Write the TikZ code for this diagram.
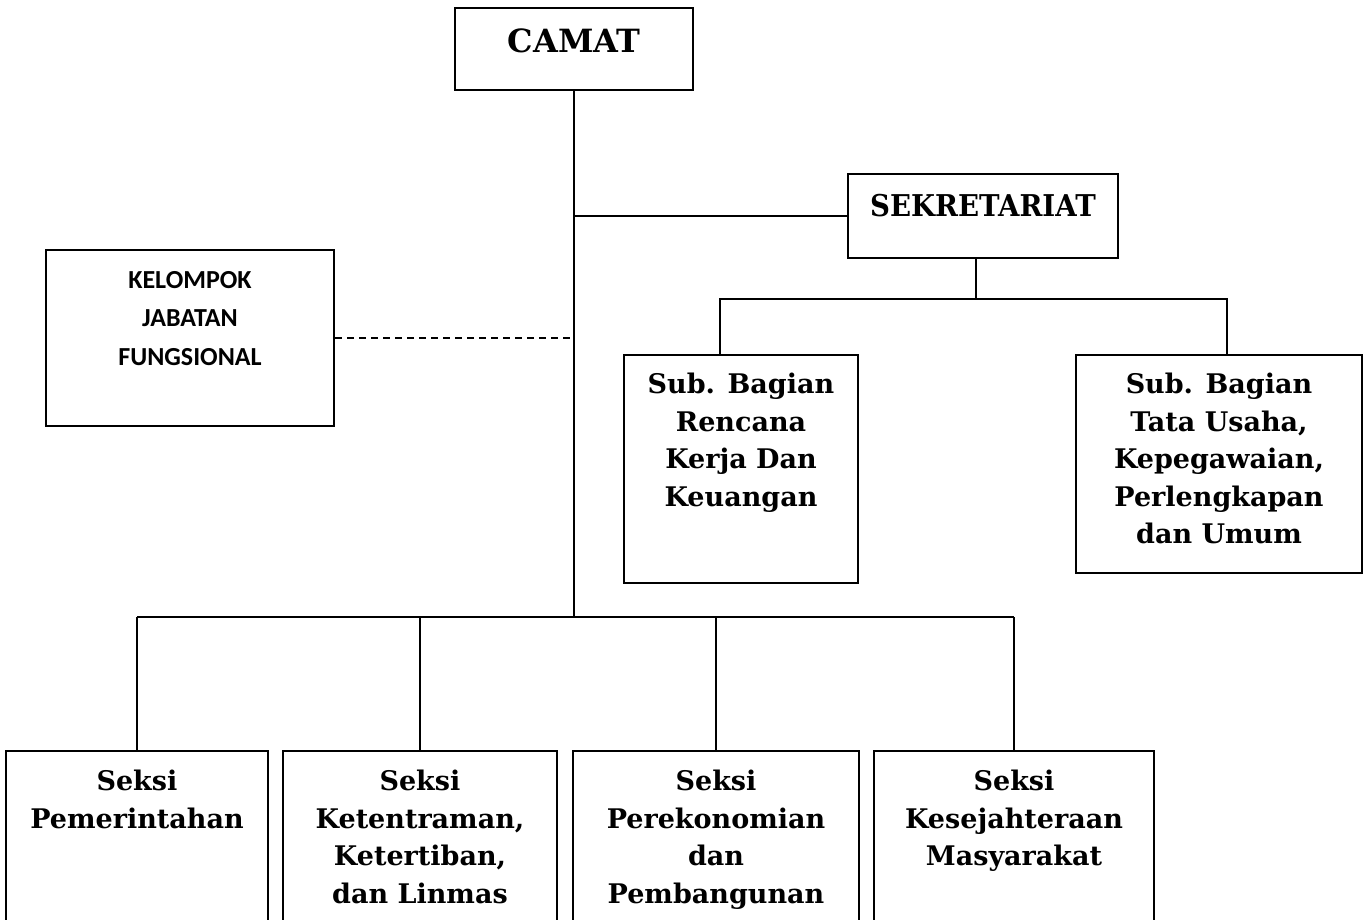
\documentclass[tikz,border=0pt]{standalone}
\usepackage{fontspec}
\usepackage{tikz}
\usetikzlibrary{positioning, calc}
\newfontfamily\carlito{Carlito}
\newfontfamily\dvserif{DejaVu Serif}

\begin{document}
\begin{tikzpicture}[x=1pt, y=-1pt, line width=2pt,
    unit/.style={draw, inner sep=0pt},
    lbl/.style={inner sep=0pt, align=center, font=\dvserif\bfseries\fontsize{27}{37.5}\selectfont},
    fnl/.style={inner sep=0pt, align=center, font=\carlito\bfseries\fontsize{26}{38.5}\selectfont}]
  \useasboundingbox (0,0) rectangle (1366,919);
  \clip (0,0) rectangle (1366,919);

  % top level
  \node[unit, minimum width=238pt, minimum height=82pt] (camat) at (574,49) {};
  \node[lbl, font=\dvserif\bfseries\fontsize{32}{40}\selectfont, below=21pt of camat.north] (tcamat) {CAMAT};

  \node[unit, minimum width=270pt, minimum height=84pt] (sekr) at (983,216) {};
  \node[lbl, font=\dvserif\bfseries\fontsize{30}{40}\selectfont, below=20pt of sekr.north] (tsekr) {\scalebox{0.92}[1]{SEKRETARIAT}};

  \node[unit, minimum width=288pt, minimum height=176pt] (kjf) at (190,338) {};
  \node[fnl, below=21pt of kjf.north] (tkjf) {KELOMPOK\\JABATAN\\FUNGSIONAL};

  % sub bagian
  \node[unit, minimum width=234pt, minimum height=228pt] (rkk) at (741,469) {};
  \node[lbl, below=18pt of rkk.north] (trkk) {Sub. Bagian\\Rencana\\Kerja Dan\\Keuangan};

  \node[unit, minimum width=286pt, minimum height=218pt] (tu) at (1219,464) {};
  \node[lbl, below=18pt of tu.north] (ttu) {Sub. Bagian\\Tata Usaha,\\Kepegawaian,\\Perlengkapan\\dan Umum};

  % seksi
  \node[unit, minimum width=262pt, minimum height=208pt] (s1) at (137,855) {};
  \node[unit, minimum width=274pt, minimum height=208pt] (s2) at (420,855) {};
  \node[unit, minimum width=286pt, minimum height=208pt] (s3) at (716,855) {};
  \node[unit, minimum width=280pt, minimum height=208pt] (s4) at (1014,855) {};
  \node[lbl, below=19pt of s1.north] (ts1) {Seksi\\Pemerintahan};
  \node[lbl, below=19pt of s2.north] (ts2) {Seksi\\Ketentraman,\\Ketertiban,\\dan Linmas};
  \node[lbl, below=19pt of s3.north] (ts3) {Seksi\\Perekonomian\\dan\\Pembangunan};
  \node[lbl, below=19pt of s4.north] (ts4) {Seksi\\Kesejahteraan\\Masyarakat};

  % lines
  \coordinate (bar) at (574,617);
  \draw (camat.south) -- (bar);
  \draw (sekr.west) -- (sekr.west -| camat.south);
  \draw[line width=1.4pt, dash pattern=on 7pt off 5pt] (kjf.east) -- (kjf.east -| camat.south);
  \draw ($(sekr.south)+(-7,0)$) -- ++(0,40) coordinate (sbar);
  \draw ($(rkk.north)+(-21,0)$) |- (sbar) -| ($(tu.north)+(8,0)$);
  \draw (s1.north |- bar) -- (s4.north |- bar);
  \foreach \s in {s1,s2,s3,s4}
    \draw (\s.north) -- (\s.north |- bar);
\end{tikzpicture}
\end{document}
